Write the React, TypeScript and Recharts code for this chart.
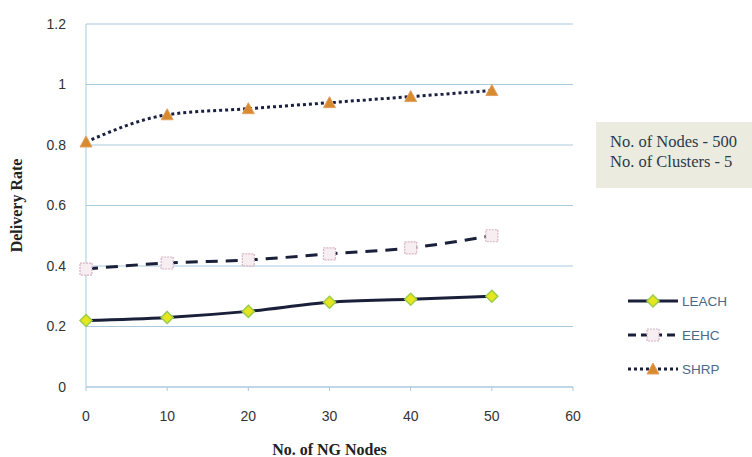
import React from "react";
import { LineChart, Line, XAxis, YAxis, CartesianGrid, Label } from "recharts";

const nodes = [0, 10, 20, 30, 40, 50];
const leach = [0.22, 0.23, 0.25, 0.28, 0.29, 0.3];
const eehc = [0.39, 0.41, 0.42, 0.44, 0.46, 0.5];
const shrp = [0.81, 0.9, 0.92, 0.94, 0.96, 0.98];
const xTicks = [0, 10, 20, 30, 40, 50, 60];
const yTicks = [0, 0.2, 0.4, 0.6, 0.8, 1, 1.2];
const annotation = ["No. of Nodes - 500", "No. of Clusters - 5"];
const seriesNames = ["LEACH", "EEHC", "SHRP"];

const data = nodes.map((n, i) => ({ n, LEACH: leach[i], EEHC: eehc[i], SHRP: shrp[i] }));

const Diamond = (props: any) => {
  const { cx, cy } = props;
  if (cx == null || cy == null) return null;
  const r = 6;
  return (
    <polygon
      points={`${cx},${cy - r} ${cx + r},${cy} ${cx},${cy + r} ${cx - r},${cy}`}
      fill="#e6e61e"
      stroke="#9ccc4a"
      strokeWidth={1.5}
    />
  );
};

const Square = (props: any) => {
  const { cx, cy } = props;
  if (cx == null || cy == null) return null;
  const r = 6;
  return (
    <rect x={cx - r} y={cy - r} width={2 * r} height={2 * r} fill="#f7eef2" stroke="#d8b4c4" strokeWidth={1.2} strokeDasharray="2 1" />
  );
};

const Triangle = (props: any) => {
  const { cx, cy } = props;
  if (cx == null || cy == null) return null;
  const r = 6;
  return (
    <polygon points={`${cx},${cy - r} ${cx + r},${cy + r - 1} ${cx - r},${cy + r - 1}`} fill="#d88a2e" stroke="#e0a060" strokeWidth={1} />
  );
};

const legendStyles = [
  { dash: undefined as string | undefined, Mark: Diamond },
  { dash: "8 5", Mark: Square },
  { dash: "3 3", Mark: Triangle },
];

const LegendBox = () => (
  <svg width={124} height={100} style={{ position: "absolute", left: 626, top: 289 }}>
    {seriesNames.map((name, i) => {
      const y = 12 + i * 34;
      const { dash, Mark } = legendStyles[i];
      return (
        <g key={name}>
          <line x1={2} x2={52} y1={y} y2={y} stroke="#1a1f3a" strokeWidth={3} strokeDasharray={dash} />
          <Mark cx={27} cy={y} />
          <text x={56} y={y + 5} fontFamily="'Liberation Sans', Arial, sans-serif" fontSize={13.5} fill="#4a6a88">
            {name}
          </text>
        </g>
      );
    })}
  </svg>
);

export default function App() {
  return (
    <div style={{ position: "absolute", left: 0, top: 0, width: 752, height: 457, background: "#fff" }}>
      <LineChart width={752} height={457} data={data} margin={{ top: 24, right: 179, bottom: 40, left: 0 }}>
        <CartesianGrid vertical={false} stroke="#a9c9dd" strokeWidth={1.2} />
        <XAxis
          dataKey="n"
          type="number"
          domain={[0, 60]}
          ticks={xTicks}
          height={30}
          stroke="#a9c9dd"
          tickSize={4}
          tickMargin={20}
          tick={{ fill: "#333", fontSize: 14, fontFamily: "'Liberation Sans', Arial, sans-serif" }}
        >
          <Label
            value="No. of  NG Nodes"
            position="bottom"
            offset={27}
            style={{ fill: "#222", fontSize: 16, fontWeight: "bold", fontFamily: "'Liberation Serif', 'Times New Roman', serif" }}
          />
        </XAxis>
        <YAxis
          type="number"
          domain={[0, 1.2]}
          ticks={yTicks}
          width={86}
          stroke="#a9c9dd"
          tickLine={false}
          tickMargin={14}
          tick={{ fill: "#333", fontSize: 14, fontFamily: "'Liberation Sans', Arial, sans-serif" }}
        >
          <Label
            value="Delivery Rate"
            angle={-90}
            position="insideLeft"
            offset={16}
            style={{ textAnchor: "middle", fill: "#222", fontSize: 16, fontWeight: "bold", fontFamily: "'Liberation Serif', 'Times New Roman', serif" }}
          />
        </YAxis>
        <Line type="monotone" dataKey="LEACH" stroke="#1a1f3a" strokeWidth={3} dot={<Diamond />} isAnimationActive={false} />
        <Line type="monotone" dataKey="EEHC" stroke="#1a1f3a" strokeWidth={3} strokeDasharray="12 8" dot={<Square />} isAnimationActive={false} />
        <Line type="monotone" dataKey="SHRP" stroke="#1a2040" strokeWidth={3} strokeDasharray="3 3" dot={<Triangle />} isAnimationActive={false} />
      </LineChart>
      <LegendBox />
      <div
        style={{
          position: "absolute",
          left: 596,
          top: 122,
          width: 156,
          height: 66,
          background: "#ecebdf",
          fontFamily: "'Liberation Serif', 'Times New Roman', serif",
          fontSize: 16.5,
          color: "#2a3a4a",
          boxSizing: "border-box",
          padding: "10px 0 0 14px",
          lineHeight: "20px",
          whiteSpace: "nowrap",
          overflow: "hidden",
        }}
      >
        {annotation.map((t) => (
          <div key={t}>{t}</div>
        ))}
      </div>
    </div>
  );
}
